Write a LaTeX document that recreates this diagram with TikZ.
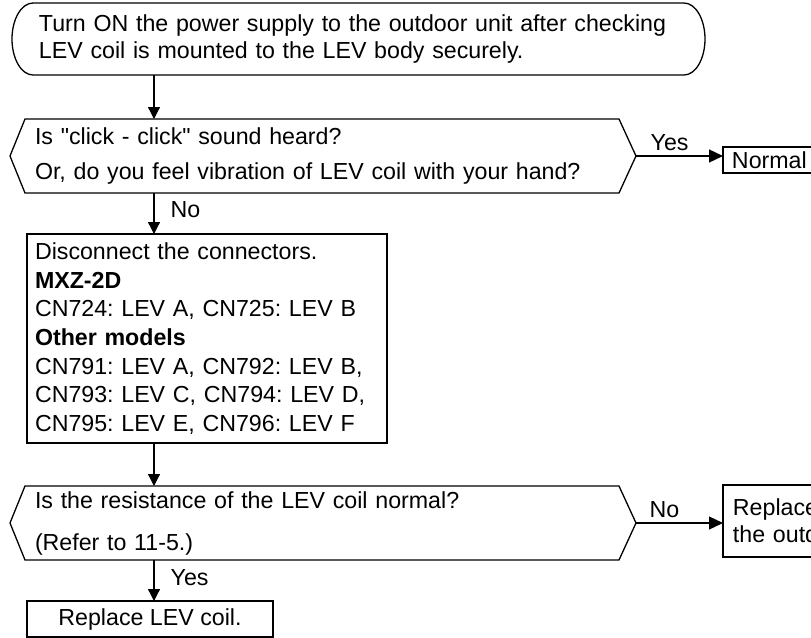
\documentclass[tikz,border=0pt]{standalone}
\usepackage{fontspec}
\setmainfont{Liberation Sans}
\newfontfamily\arialf{Liberation Sans}
\frenchspacing
\usetikzlibrary{arrows.meta,calc}
\begin{document}
\begin{tikzpicture}[x=0.5pt,y=-0.5pt,
  line width=0.65pt,
  arr/.style={-{Triangle[length=6pt,width=6pt]}},
  harr/.style={-{Triangle[length=7pt,width=6.5pt]}},
  shapebox/.style={rectangle, draw=none, inner ysep=0pt, outer sep=0pt, align=left, anchor=north west},
  lbl/.style={inner sep=0pt, anchor=west, font=\arialf\fontsize{11.6}{14}\selectfont},
  thickbox/.style={draw, line width=1.3pt}]
\useasboundingbox (0,0) rectangle (811,638);
\clip (0,0) rectangle (811,638);

% start terminal
\node[shapebox, minimum width=325.5pt, minimum height=36pt, inner xsep=3pt, text width=319.5pt,
      font=\arialf\fontsize{11.6}{13.5}\selectfont] (start) at (33,3)
  {Turn ON the power supply to the outdoor unit after checking\\LEV coil is mounted to the LEV body securely.};
\draw (start.north west) -- (start.north east)
  arc[start angle=90, end angle=-90, x radius=10.5pt, y radius=18pt]
  -- (start.south west)
  arc[start angle=270, end angle=90, x radius=10.5pt, y radius=18pt] -- cycle;

% decision 1
\node[shapebox, minimum width=297pt, minimum height=37pt, inner xsep=5pt, text width=287pt,
      font=\arialf\fontsize{11.6}{17.5}\selectfont] (d1) at (25,119)
  {Is "click - click" sound heard?\\Or, do you feel vibration of LEV coil with your hand?};
\draw (d1.north west) -- (d1.north east) -- ($(d1.east)+(17,0)$) coordinate (d1r)
  -- (d1.south east) -- (d1.south west) -- ($(d1.west)+(-15,0)$) -- cycle;

% disconnect box
\node[shapebox, draw, minimum width=180pt, minimum height=104.5pt, inner xsep=4pt, text width=172pt,
      font=\arialf\fontsize{11.6}{14.35}\selectfont] (disc) at (27,234)
  {Disconnect the connectors.\\\textbf{MXZ-2D}\\CN724: LEV A, CN725: LEV B\\\textbf{Other models}\\CN791: LEV A, CN792: LEV B,\\CN793: LEV C, CN794: LEV D,\\CN795: LEV E, CN796: LEV F};

% decision 2
\node[shapebox, minimum width=297pt, minimum height=37pt, inner xsep=5pt, text width=287pt,
      font=\arialf\fontsize{11.6}{21}\selectfont] (d2) at (25,486)
  {Is the resistance of the LEV coil normal?\\(Refer to 11-5.)};
\draw (d2.north west) -- (d2.north east) -- ($(d2.east)+(17,0)$) coordinate (d2r)
  -- (d2.south east) -- (d2.south west) -- ($(d2.west)+(-15,0)$) -- cycle;

% outcome boxes
\node[shapebox, thickbox, minimum width=60pt, minimum height=13pt, inner xsep=4.5pt, text width=51pt,
      font=\arialf\fontsize{11.6}{14}\selectfont] (normal) at (723,147) {Normal};
\node[shapebox, thickbox, minimum width=120pt, minimum height=36pt, inner xsep=5pt, text width=110pt,
      font=\arialf\fontsize{11.6}{13.5}\selectfont] (repout) at (723,485) {Replace\\the outdoor unit.};
\node[thickbox, anchor=north west, outer sep=0pt, minimum width=123pt, minimum height=18pt,
      font=\arialf\fontsize{11.6}{14}\selectfont] (repcoil) at (27,601) {Replace LEV coil.};

% connectors
\coordinate (ax) at (154,0);
\draw[arr] (start.south -| ax) -- (d1.north -| ax);
\draw[arr] (d1.south -| ax) -- (disc.north -| ax);
\draw[arr] (disc.south -| ax) -- (d2.north -| ax);
\draw[arr] (d2.south -| ax) -- (repcoil.north -| ax);
\draw[harr] (d1r) -- (d1r -| normal.west);
\draw[harr] (d2r) -- (d2r -| repout.west);

% labels
\node[lbl] (lno1) at (170,210) {No};
\node[lbl] (lyes1) at (650,143) {Yes};
\node[lbl] (lyes2) at (170,578) {Yes};
\node[lbl] (lno2) at (649,510) {No};
\end{tikzpicture}
\end{document}
